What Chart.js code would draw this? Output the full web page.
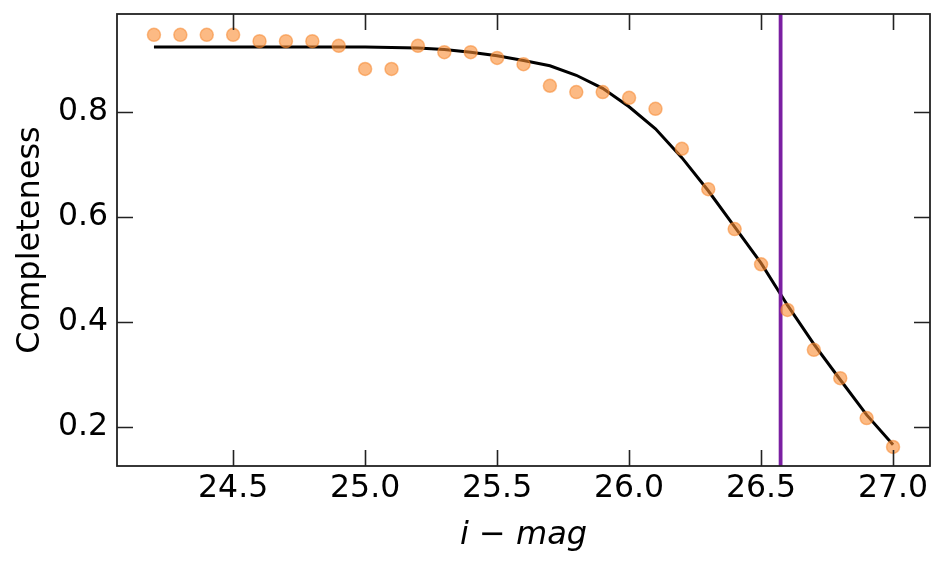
<!DOCTYPE html>
<html>
<head>
<meta charset="utf-8">
<script src="https://cdn.jsdelivr.net/npm/chart.js@4"></script>
<style>
  html, body { margin: 0; padding: 0; background: #fff; }
  #wrap { width: 945px; height: 568px; }
</style>
</head>
<body>
<div id="wrap"><canvas id="c" width="945" height="568"></canvas></div>
<script>
// Data
const magBins = [24.2,24.3,24.4,24.5,24.6,24.7,24.8,24.9,25.0,25.1,25.2,25.3,25.4,25.5,25.6,25.7,25.8,25.9,26.0,26.1,26.2,26.3,26.4,26.5,26.6,26.7,26.8,26.9,27.0];
const completeness = [0.947,0.947,0.947,0.947,0.935,0.935,0.935,0.926,0.882,0.882,0.926,0.914,0.914,0.903,0.891,0.850,0.838,0.838,0.827,0.806,0.730,0.653,0.577,0.510,0.423,0.347,0.293,0.217,0.162];
const fitValues = [0.924,0.924,0.924,0.924,0.924,0.924,0.924,0.924,0.924,0.923,0.922,0.919,0.914,0.907,0.898,0.888,0.870,0.845,0.810,0.768,0.713,0.650,0.581,0.512,0.432,0.358,0.290,0.223,0.166];
const limitMag = 26.574;
const xTicks = [24.5,25.0,25.5,26.0,26.5,27.0];
const yTicks = [0.2,0.4,0.6,0.8];
const xRange = [24.06, 27.14];
const yRange = [0.1257, 0.9867];

const FONT = "'DejaVu Sans', sans-serif";

const framePlugin = {
  id: 'frame',
  afterDatasetsDraw(chart) {
    const {ctx, chartArea: a, scales} = chart;
    ctx.save();
    ctx.strokeStyle = '#222';
    ctx.lineWidth = 1.6;
    const L = 16;
    ctx.beginPath();
    scales.x.ticks.forEach(t => {
      const px = Math.round(scales.x.getPixelForValue(t.value)) + 0.5;
      ctx.moveTo(px, a.bottom); ctx.lineTo(px, a.bottom - L);
      ctx.moveTo(px, a.top); ctx.lineTo(px, a.top + L);
    });
    scales.y.ticks.forEach(t => {
      const py = Math.round(scales.y.getPixelForValue(t.value)) + 0.5;
      ctx.moveTo(a.left, py); ctx.lineTo(a.left + L, py);
      ctx.moveTo(a.right, py); ctx.lineTo(a.right - L, py);
    });
    ctx.stroke();
    ctx.lineWidth = 1.8;
    ctx.strokeRect(a.left, a.top, a.right - a.left, a.bottom - a.top);
    ctx.restore();
  }
};

new Chart(document.getElementById('c'), {
  type: 'scatter',
  data: {
    datasets: [
      {
        type: 'scatter',
        label: 'data',
        data: magBins.map((m, i) => ({x: m, y: completeness[i]})),
        backgroundColor: 'rgba(250,140,50,0.6)',
        borderColor: 'rgba(245,135,45,0.55)',
        borderWidth: 1.5,
        pointRadius: 6.5,
        order: 0
      },
      {
        type: 'line',
        label: 'limit',
        data: [{x: limitMag, y: yRange[0]}, {x: limitMag, y: yRange[1]}],
        borderColor: '#7b1fa2',
        borderWidth: 3.8,
        pointRadius: 0,
        order: 1
      },
      {
        type: 'line',
        label: 'fit',
        data: magBins.map((m, i) => ({x: m, y: fitValues[i]})),
        borderColor: '#000',
        borderWidth: 3,
        pointRadius: 0,
        tension: 0,
        order: 2
      }
    ]
  },
  options: {
    responsive: false,
    animation: false,
    layout: { padding: { left: 0, right: 15, top: 14, bottom: 0 } },
    plugins: { legend: { display: false }, tooltip: { enabled: false } },
    scales: {
      x: {
        type: 'linear',
        min: xRange[0], max: xRange[1],
        grid: { display: false, drawTicks: false },
        border: { display: false },
        afterBuildTicks: s => { s.ticks = xTicks.map(v => ({value: v})); },
        afterFit: s => { s.height = 102; s.paddingLeft = 0; s.paddingRight = 0; },
        ticks: {
          color: '#000',
          font: { family: FONT, size: 31.5 },
          padding: 4,
          maxRotation: 0,
          callback: v => Number(v).toFixed(1)
        },
        title: {
          display: true,
          text: 'i − mag',
          color: '#000',
          font: { family: FONT, size: 32, style: 'italic' },
          padding: { top: 0, bottom: 13 }
        }
      },
      y: {
        type: 'linear',
        min: yRange[0], max: yRange[1],
        grid: { display: false, drawTicks: false },
        border: { display: false },
        afterBuildTicks: s => { s.ticks = yTicks.map(v => ({value: v})); },
        afterFit: s => { s.width = 117; s.paddingTop = 0; s.paddingBottom = 0; },
        ticks: {
          color: '#000',
          font: { family: FONT, size: 31.5 },
          padding: 9,
          callback: v => Number(v).toFixed(1)
        },
        title: {
          display: true,
          text: 'Completeness',
          color: '#000',
          font: { family: FONT, size: 32 },
          padding: { top: 11, bottom: 0 }
        }
      }
    }
  },
  plugins: [framePlugin]
});
</script>
</body>
</html>
